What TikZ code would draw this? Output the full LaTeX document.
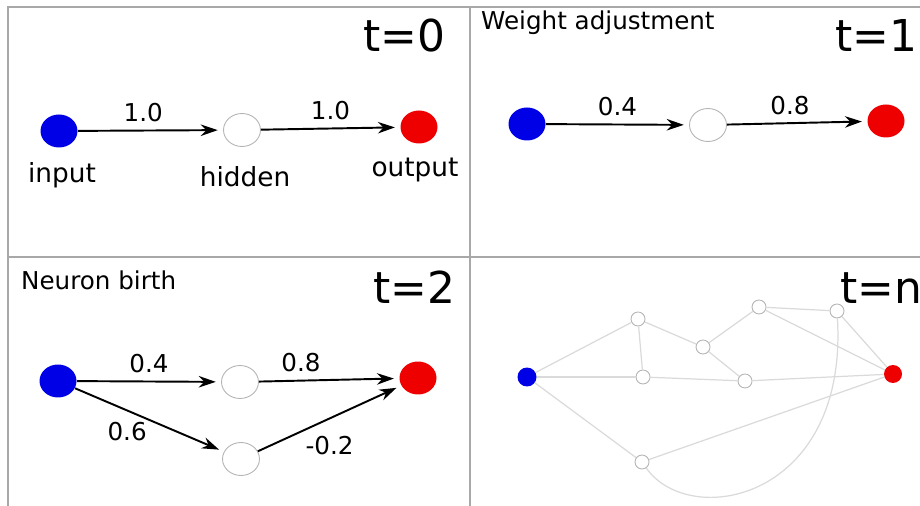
\documentclass[tikz,border=0pt]{standalone}
\usepackage{fontspec}
\setsansfont{DejaVu Sans}
\usetikzlibrary{arrows.meta,shapes.geometric}
\definecolor{inblue}{HTML}{0000E6}
\definecolor{outred}{HTML}{EE0000}
\definecolor{rim}{HTML}{B4B4B4}
\definecolor{frame}{HTML}{A8A8A8}
\definecolor{faint}{HTML}{DADADA}
\tikzset{unit/.style={ellipse,minimum width=7.4mm,minimum height=6.6mm,inner sep=0pt},inn/.style={unit,fill=inblue},hid/.style={unit,draw=rim,fill=white,line width=0.5pt},outn/.style={unit,fill=outred},tiny/.style={circle,minimum size=2.8mm,inner sep=0pt,draw=rim,fill=white,line width=0.5pt},arrow/.style={-{Stealth[length=3.4mm,width=2.3mm]},line width=1.1pt,shorten >=3pt},wlab/.style={font=\sffamily\fontsize{14}{16}\selectfont},nlab/.style={font=\sffamily\fontsize{15}{17}\selectfont},tlab/.style={font=\sffamily\fontsize{25}{28}\selectfont},link/.style={draw=faint,line width=0.7pt}}

\begin{document}
\begin{tikzpicture}[x=0.02cm,y=-0.02cm]
\clip (0,0) rectangle (920,506);
\draw[frame,line width=1.2pt] (920,7)--(8,7)--(8,506) (470,7)--(470,506) (8,257)--(920,257);
% t=0
\node[tlab] (t0) at (404,36) {t=0};
\node[inn] (a0) at (59,131) {};
\node[hid] (b0) at (242,130) {};
\node[outn] (c0) at (419,127) {};
\node[nlab] (la0) at (62,175) {input};
\node[nlab] (lb0) at (245,177) {hidden};
\node[nlab] (lc0) at (415,170) {output};
\draw[arrow](a0)--node[wlab,pos=0.45,above=1pt]{1.0}(b0);\draw[arrow](b0)--node[wlab,above=1pt]{1.0}(c0);
% t=1
\node[wlab,anchor=west] (title1) at (475,23) {Weight adjustment};
\node[tlab] (t1) at (876,35) {t=1};
\node[inn] (a1) at (527,124) {};
\node[hid] (b1) at (708,125) {};
\node[outn] (c1) at (886,121) {};
\draw[arrow](a1)--node[wlab,above=1pt]{0.4}(b1);\draw[arrow](b1)--node[wlab,pos=0.45,above=1pt]{0.8}(c1);
% t=2
\node[wlab,anchor=west] (title2) at (15,280) {Neuron birth};
\node[tlab] (t2) at (414,287) {t=2};
\node[inn] (a2) at (58,381) {};
\node[hid] (b2) at (240,382) {};
\node[hid] (d2) at (241,459) {};
\node[outn] (c2) at (418,378) {};
\draw[arrow](a2)--node[wlab,above=1pt]{0.4}(b2);\draw[arrow](b2)--node[wlab,pos=0.3,above=1pt]{0.8}(c2);
\draw[arrow](a2)--node[wlab,pos=0.35,below=3pt]{0.6}(d2);\draw[arrow](d2)--node[wlab,pos=0.5,below=6pt]{-0.2}(c2);
% t=n
\node[tlab,anchor=west] (tn) at (834,288) {t=n};
\node[circle,minimum size=3.8mm,inner sep=0pt,fill=inblue] (an) at (527,377) {};
\node[circle,minimum size=3.6mm,inner sep=0pt,fill=outred] (cn) at (893,374) {};
\node[tiny] (n1) at (638,319) {};
\node[tiny] (n2) at (643,377) {};
\node[tiny] (n3) at (703,347) {};
\node[tiny] (n4) at (759,307) {};
\node[tiny] (n5) at (837,311) {};
\node[tiny] (n6) at (745,381) {};
\node[tiny] (n7) at (642,462) {};
\draw[link](an)--(n1);\draw[link](an)--(n2);\draw[link](an)--(n7);\draw[link](n1)--(n2);\draw[link](n1)--(n3);
\draw[link](n3)--(n4);\draw[link](n3)--(n6);\draw[link](n4)--(n5);\draw[link](n4)--(cn);\draw[link](n5)--(cn);
\draw[link](n2)--(n6);\draw[link](n6)--(cn);\draw[link](n7)--(cn);
\draw[link](n5) .. controls (848,500) and (690,530) .. (n7);
\end{tikzpicture}
\end{document}
